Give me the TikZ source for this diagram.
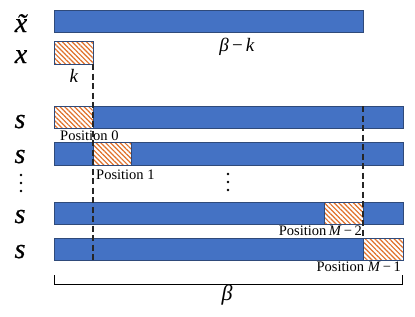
\documentclass[tikz,border=0pt]{standalone}
\usepackage{fontspec}
\setmainfont{Liberation Serif}
\newfontfamily\rowfont[FakeBold=0.6]{Liberation Serif Italic}
\usetikzlibrary{patterns.meta}
\definecolor{barblue}{HTML}{4472C4}
\definecolor{barline}{HTML}{2F4A7A}
\definecolor{hatchor}{HTML}{E0702A}
\tikzset{
  bar/.style={draw=barline, fill=barblue, line width=0.8pt, inner sep=0pt, outer sep=0pt, anchor=north west},
  hbox/.style={draw=barline, line width=0.8pt, inner sep=0pt, outer sep=0pt, anchor=north west,
     preaction={fill=white}, pattern={Lines[angle=-45,distance=3.4pt,line width=1.2pt]}, pattern color=hatchor},
  dashline/.style={line width=1.1pt, dash pattern=on 6pt off 3.5pt, black!85},
  rowlab/.style={font=\fontsize{28}{28}\rowfont, anchor=base, inner sep=0pt},
  poslab/.style={font=\fontsize{14.5}{15}\selectfont, inner sep=0pt},
  mathlab/.style={font=\fontsize{19}{19}\selectfont, anchor=base, inner sep=0pt},
  dot/.style={fill=black, radius=1.3pt},
}
\begin{document}
\begin{tikzpicture}[x=1pt,y=-1pt]
\useasboundingbox (0,0) rectangle (415,316);
% bars
\node[bar, minimum width=309pt, minimum height=22pt] (xt) at (54,10) {};
\node[hbox, minimum width=39pt, minimum height=23pt] (xk) at (54,41) {};
\node[bar, minimum width=349pt, minimum height=22pt] (s1) at (54,106) {};
\node[hbox, minimum width=39pt, minimum height=22pt] (h1) at (54,106) {};
\node[bar, minimum width=349pt, minimum height=23pt] (s2) at (54,142) {};
\node[hbox, minimum width=38pt, minimum height=23pt] (h2) at (93,142) {};
\node[bar, minimum width=349pt, minimum height=22pt] (s3) at (54,202) {};
\node[hbox, minimum width=39pt, minimum height=22pt] (h3) at (324,202) {};
\node[bar, minimum width=349pt, minimum height=22pt] (s4) at (54,238) {};
\node[hbox, minimum width=40pt, minimum height=22pt] (h4) at (363,238) {};
% dashed guides
\coordinate (lbot) at (xk.south east |- s4.south);
\draw[dashline] (xk.south east) -- (lbot);
\coordinate (rtop) at (xt.south east |- s1.north);
\coordinate (rbot) at (xt.south east |- s4.north);
\draw[dashline] (rtop) -- (rbot);
% row labels
\node[rowlab] (lxt) at (21,32) {\~{x}};
\node[rowlab] (lx) at (21,63) {x};
\node[rowlab] (ls1) at (20,128) {s};
\node[rowlab] (ls2) at (20,163) {s};
\node[rowlab] (ls3) at (20,223) {s};
\node[rowlab] (ls4) at (20,258) {s};
% dots
\fill[dot] (21,175) circle[] (21,183) circle[] (21,191) circle[];
\fill[dot] (228,174) circle[] (228,182) circle[] (228,190) circle[];
% length labels
\node[mathlab] (lk) at (74,82) {\textit{k}};
\node[mathlab] (lbk) at (237,51) {\textit{β}\,−\,\textit{k}};
% position labels
\node[poslab, anchor=base west] (p0) at (60,140) {Position 0};
\node[poslab, anchor=base west] (p1) at (96,179) {Position 1};
\node[poslab, anchor=base east] (p2) at (362,235) {Position\,\textit{M}\,−\,2};
\node[poslab, anchor=base east] (p3) at (401,271) {Position \textit{M}\,−\,1};
% bracket
\coordinate (bl) at (54,275);
\coordinate (br) at (402,275);
\draw[line width=0.9pt] (bl) -- ++(0,9) -| (br);
\node[font=\fontsize{22}{22}\selectfont, anchor=base, inner sep=0pt] (lb) at (227,300) {\textit{β}};
\end{tikzpicture}
\end{document}
